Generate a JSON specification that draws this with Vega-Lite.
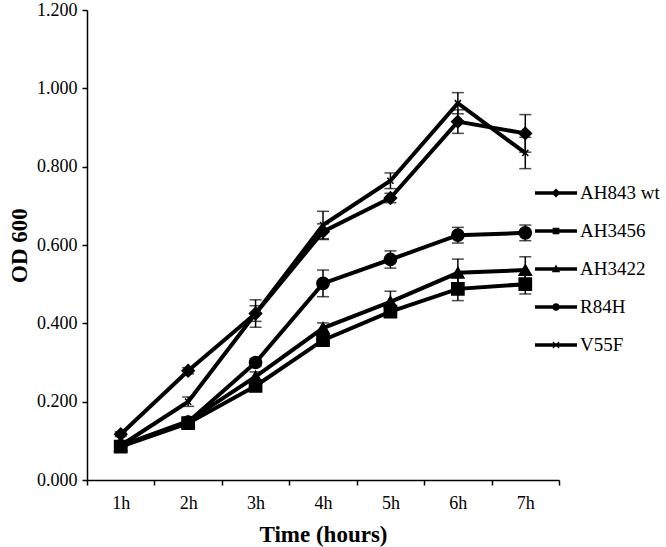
{
  "$schema": "https://vega.github.io/schema/vega-lite/v6.json",
  "width": 472,
  "height": 470,
  "autosize": {"type": "none"},
  "padding": {"left": 87, "top": 10, "right": 107, "bottom": 67},
  "background": "white",
  "config": {
    "view": {"stroke": null},
    "font": "Liberation Serif",
    "axis": {
      "labelFont": "Liberation Serif",
      "labelFontSize": 18,
      "labelColor": "black",
      "titleFont": "Liberation Serif",
      "titleColor": "black",
      "titleFontWeight": "bold",
      "domainColor": "black",
      "domainWidth": 1.5,
      "tickColor": "black",
      "tickWidth": 1.5,
      "tickSize": 5,
      "grid": false
    },
    "legend": {
      "labelFont": "Liberation Serif",
      "labelFontSize": 19,
      "labelColor": "black"
    }
  },
  "data": {
    "values": [
      {"time": "1h", "strain": "AH843 wt", "od": 0.117, "err": 0.006},
      {"time": "2h", "strain": "AH843 wt", "od": 0.279, "err": 0.008},
      {"time": "3h", "strain": "AH843 wt", "od": 0.425, "err": 0.02},
      {"time": "4h", "strain": "AH843 wt", "od": 0.634, "err": 0.02},
      {"time": "5h", "strain": "AH843 wt", "od": 0.72, "err": 0.012},
      {"time": "6h", "strain": "AH843 wt", "od": 0.915, "err": 0.03},
      {"time": "7h", "strain": "AH843 wt", "od": 0.885, "err": 0.048},
      {"time": "1h", "strain": "AH3456", "od": 0.085, "err": 0.004},
      {"time": "2h", "strain": "AH3456", "od": 0.145, "err": 0.006},
      {"time": "3h", "strain": "AH3456", "od": 0.24, "err": 0.008},
      {"time": "4h", "strain": "AH3456", "od": 0.357, "err": 0.01},
      {"time": "5h", "strain": "AH3456", "od": 0.43, "err": 0.012},
      {"time": "6h", "strain": "AH3456", "od": 0.488, "err": 0.03},
      {"time": "7h", "strain": "AH3456", "od": 0.5, "err": 0.025},
      {"time": "1h", "strain": "AH3422", "od": 0.088, "err": 0.004},
      {"time": "2h", "strain": "AH3422", "od": 0.15, "err": 0.006},
      {"time": "3h", "strain": "AH3422", "od": 0.264, "err": 0.012},
      {"time": "4h", "strain": "AH3422", "od": 0.388, "err": 0.013},
      {"time": "5h", "strain": "AH3422", "od": 0.455, "err": 0.027},
      {"time": "6h", "strain": "AH3422", "od": 0.529, "err": 0.035},
      {"time": "7h", "strain": "AH3422", "od": 0.536, "err": 0.034},
      {"time": "1h", "strain": "R84H", "od": 0.087, "err": 0.004},
      {"time": "2h", "strain": "R84H", "od": 0.148, "err": 0.006},
      {"time": "3h", "strain": "R84H", "od": 0.3, "err": 0.01},
      {"time": "4h", "strain": "R84H", "od": 0.502, "err": 0.034},
      {"time": "5h", "strain": "R84H", "od": 0.563, "err": 0.022},
      {"time": "6h", "strain": "R84H", "od": 0.625, "err": 0.02},
      {"time": "7h", "strain": "R84H", "od": 0.631, "err": 0.02},
      {"time": "1h", "strain": "V55F", "od": 0.088, "err": 0.004},
      {"time": "2h", "strain": "V55F", "od": 0.2, "err": 0.012},
      {"time": "3h", "strain": "V55F", "od": 0.425, "err": 0.035},
      {"time": "4h", "strain": "V55F", "od": 0.651, "err": 0.035},
      {"time": "5h", "strain": "V55F", "od": 0.764, "err": 0.02},
      {"time": "6h", "strain": "V55F", "od": 0.962, "err": 0.027},
      {"time": "7h", "strain": "V55F", "od": 0.835, "err": 0.04}
    ]
  },
  "encoding": {
    "x": {
      "field": "time",
      "type": "ordinal",
      "bandPosition": 0.5,
      "scale": {"type": "band", "paddingInner": 0, "paddingOuter": 0},
      "axis": {
        "title": "Time (hours)",
        "titleFontSize": 23,
        "titlePadding": 11,
        "labelAngle": 0,
        "labelPadding": 9,
        "tickBand": "extent"
      }
    },
    "y": {
      "field": "od",
      "type": "quantitative",
      "scale": {"domain": [0, 1.2], "nice": false, "zero": true},
      "axis": {
        "title": "OD 600",
        "titleFontSize": 23,
        "titlePadding": 5,
        "values": [0, 0.2, 0.4, 0.6, 0.8, 1.0, 1.2],
        "format": ".3f",
        "labelPadding": 5
      }
    }
  },
  "resolve": {"scale": {"shape": "independent"}, "legend": {"shape": "independent"}},
  "layer": [
    {
      "mark": {"type": "errorbar", "ticks": {"size": 12, "color": "black", "thickness": 1.5}, "rule": {"color": "black", "strokeWidth": 1.5}},
      "encoding": {
        "y": {"field": "od", "type": "quantitative"},
        "yError": {"field": "err"},
        "detail": {"field": "strain"}
      }
    },
    {
      "mark": {"type": "line", "color": "black", "strokeWidth": 4},
      "encoding": {
        "detail": {"field": "strain"}
      }
    },
    {
      "mark": {"type": "point", "filled": true, "color": "black", "stroke": "black", "strokeWidth": 1.5, "opacity": 1},
      "encoding": {
        "shape": {
          "field": "strain",
          "type": "nominal",
          "scale": {
            "domain": ["AH843 wt", "AH3456", "AH3422", "R84H", "V55F"],
            "range": ["diamond", "square", "triangle-up", "circle", "M-0.5,-0.5L0.5,0.5M-0.5,0.5L0.5,-0.5"]
          },
          "legend": null
        },
        "size": {"value": 150}
      }
    },
    {
      "transform": [{"filter": "false"}],
      "mark": {"type": "point", "filled": true, "color": "black", "opacity": 1},
      "encoding": {
        "shape": {
          "field": "strain",
          "type": "nominal",
          "scale": {
            "domain": ["AH843 wt", "AH3456", "AH3422", "R84H", "V55F"],
            "range": [
              "M-1,-0.08L1,-0.08L1,0.08L-1,0.08ZM0,-0.22L0.22,0L0,0.22L-0.22,0Z",
              "M-1,-0.08L1,-0.08L1,0.08L-1,0.08ZM-0.16,-0.16L0.16,-0.16L0.16,0.16L-0.16,0.16Z",
              "M-1,-0.08L1,-0.08L1,0.08L-1,0.08ZM0,-0.22L0.2,0.15L-0.2,0.15Z",
              "M-1,-0.08L1,-0.08L1,0.08L-1,0.08ZM-0.18,0A0.18,0.18,0,1,1,0.18,0A0.18,0.18,0,1,1,-0.18,0Z",
              "M-1,-0.08L1,-0.08L1,0.08L-1,0.08ZM-0.13,-0.17L0.17,0.13L0.13,0.17L-0.17,-0.13ZM-0.17,0.13L0.13,-0.17L0.17,-0.13L-0.13,0.17Z"
            ]
          },
          "legend": {
            "title": null,
            "orient": "none",
            "legendX": 447,
            "legendY": 161,
            "symbolSize": 1764,
            "symbolOpacity": 1,
            "symbolFillColor": "black",
            "rowPadding": 6,
            "labelOffset": 2,
            "encode": {
              "symbols": {
                "fill": {"value": "black"},
                "fillOpacity": {"value": 1},
                "opacity": {"value": 1}
              }
            }
          }
        },
        "size": {"value": 1764}
      }
    }
  ]
}
